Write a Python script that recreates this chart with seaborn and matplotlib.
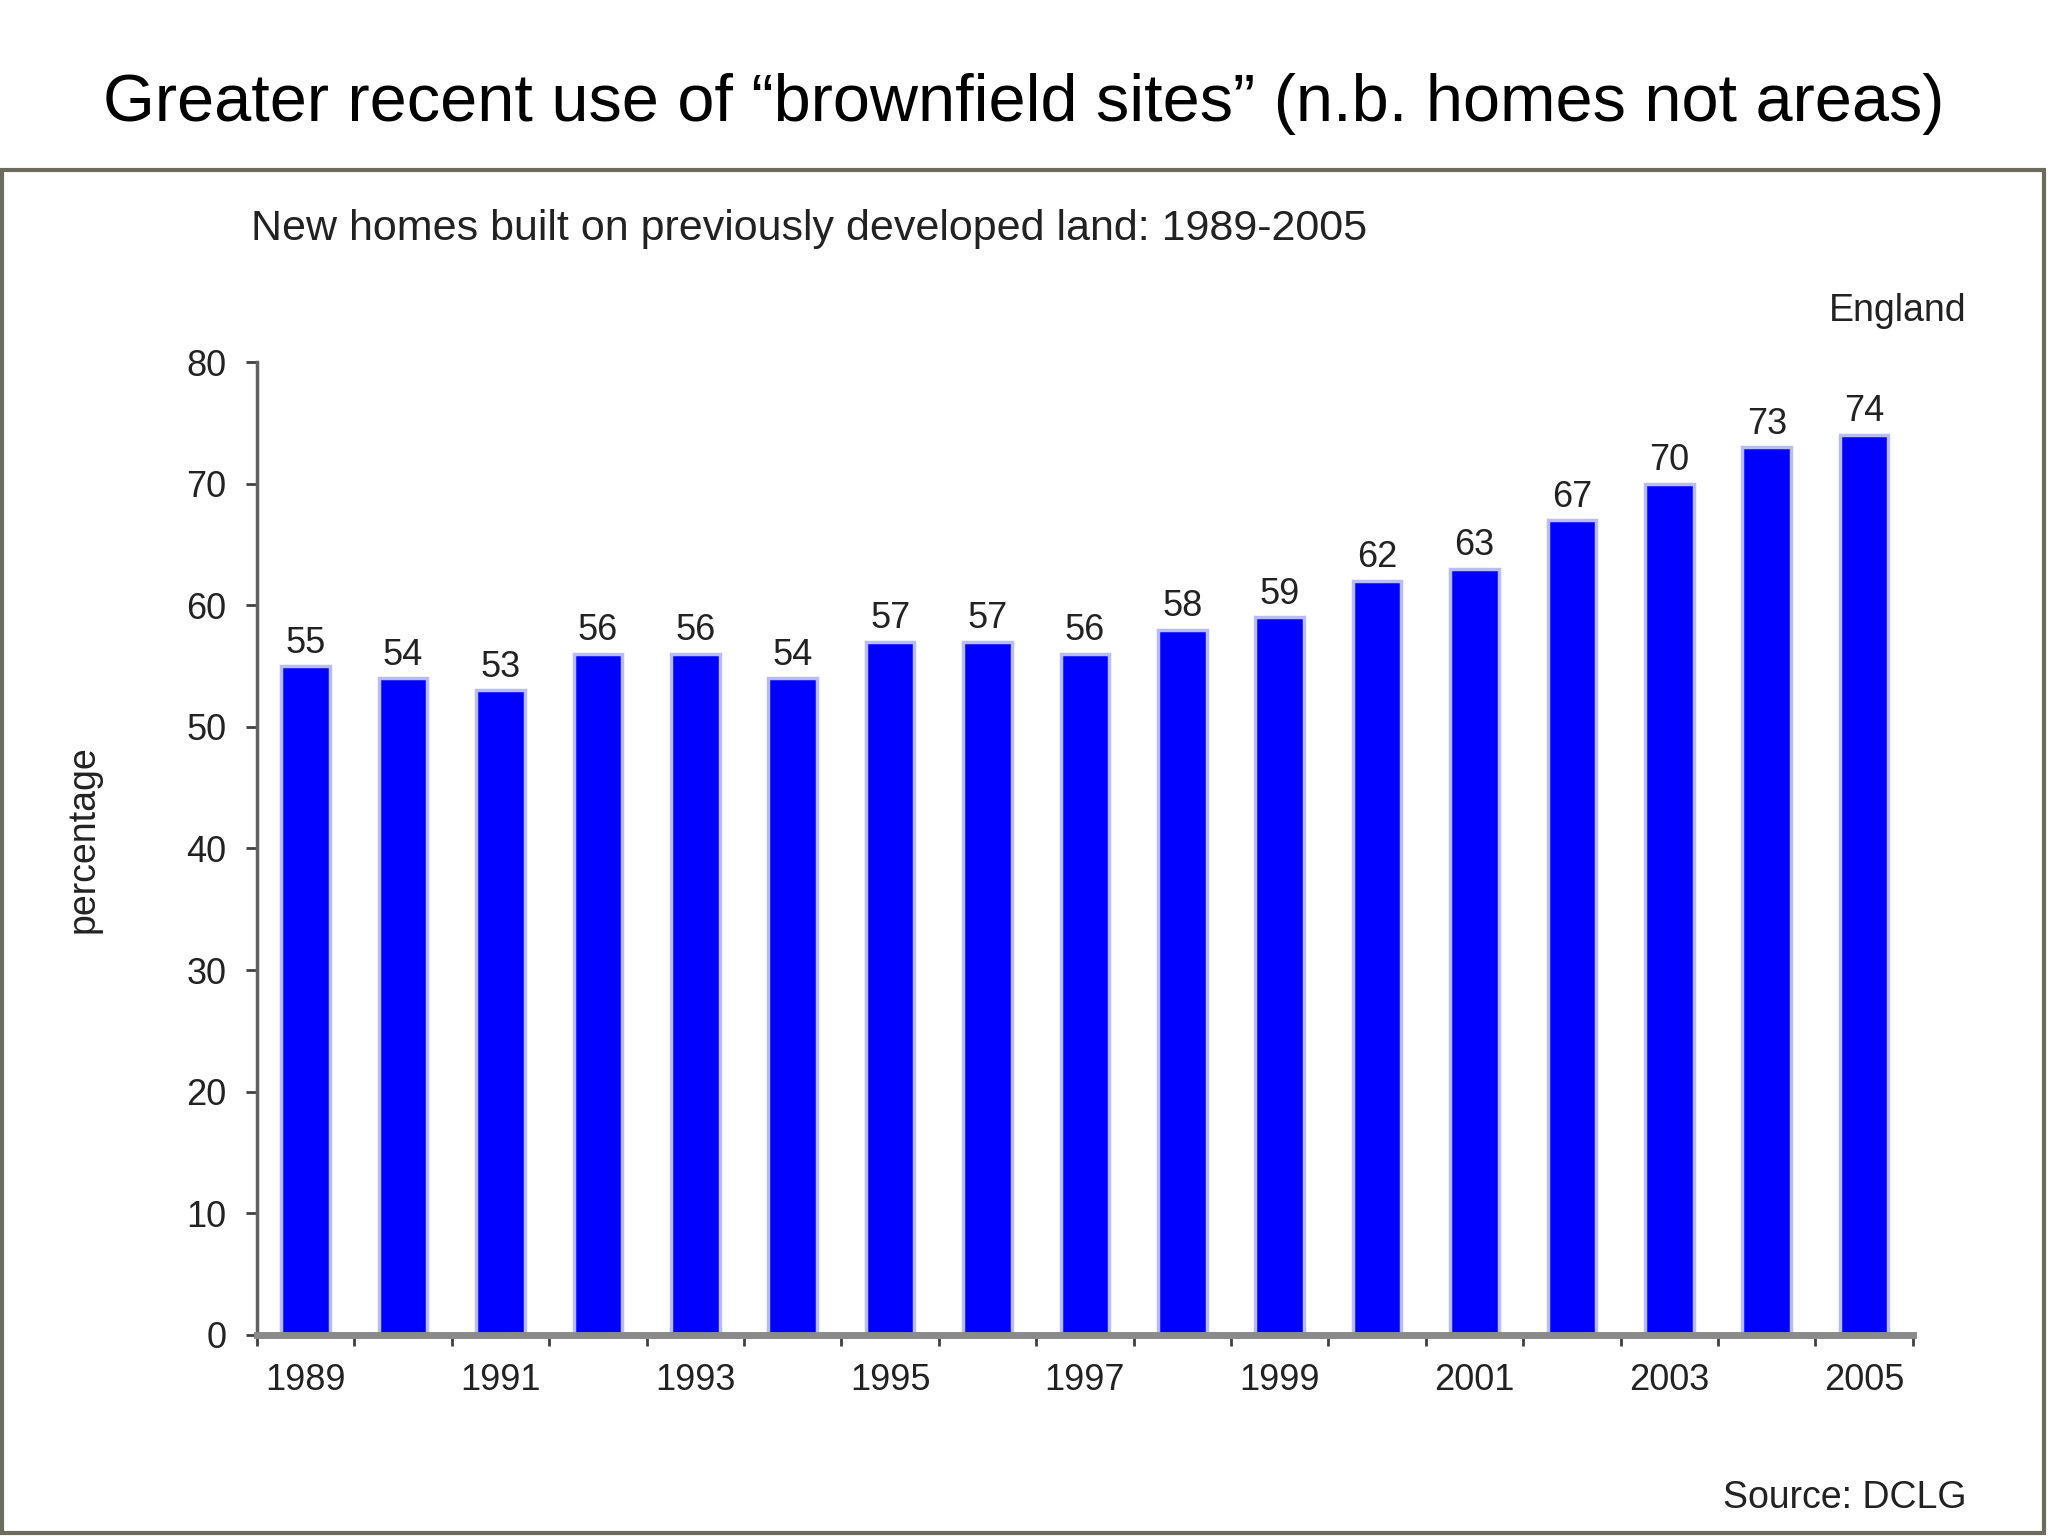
import matplotlib
matplotlib.use("Agg")
import matplotlib.pyplot as plt
import pandas as pd
import seaborn as sns
from matplotlib.patches import Rectangle
from matplotlib.ticker import FixedLocator

# data
years = list(range(1989, 2006))
share = [55, 54, 53, 56, 56, 54, 57, 57, 56, 58, 59, 62, 63, 67, 70, 73, 74]
y_ticks = [0, 10, 20, 30, 40, 50, 60, 70, 80]

df = pd.DataFrame({"year": [str(y) for y in years], "share": share})

sns.set_theme(style="white")
plt.rcParams["font.family"] = ["Liberation Sans", "DejaVu Sans"]

text_col = "#222222"

fig = plt.figure(figsize=(20.48, 15.36), dpi=100)
ax = fig.add_axes([0.1255, 0.1309, 0.8085, 0.6334])

sns.barplot(data=df, x="year", y="share", color="#0000ff", saturation=1,
            width=0.5, edgecolor="#b8bcff", linewidth=2.5, ax=ax)

ax.bar_label(ax.containers[0], labels=[str(v) for v in share], padding=4,
             fontsize=26, color=text_col)

ax.set_xlim(-0.5, len(years) - 0.5)
ax.set_ylim(0, 80)
ax.set_yticks(y_ticks)
ax.set_yticklabels([str(t) for t in y_ticks], fontsize=26, color=text_col)

# labels every other year at bar centres, ticks at the category boundaries
ax.set_xticks(range(0, len(years), 2))
ax.set_xticklabels([str(y) for y in years[::2]], fontsize=26, color=text_col)
ax.xaxis.set_minor_locator(FixedLocator([i - 0.5 for i in range(len(years) + 1)]))
ax.tick_params(axis="x", which="major", length=0, pad=20)
ax.tick_params(axis="x", which="minor", length=8, width=2, color="#404040",
               direction="out", bottom=True)
ax.tick_params(axis="y", length=8, width=2, color="#404040", direction="out",
               pad=14, left=True)

ax.set_xlabel("")
ax.set_ylabel("percentage", fontsize=27, color=text_col, labelpad=0)
ax.yaxis.set_label_coords(-0.094, 0.51)

sns.despine(ax=ax, top=True, right=True)
ax.spines["left"].set_color("#606060")
ax.spines["left"].set_linewidth(2.5)
ax.spines["bottom"].set_color("#8a8a8a")
ax.spines["bottom"].set_linewidth(5)

# frame round the chart picture
fig.patches.append(Rectangle((0.001, 0.002), 0.997, 0.887, transform=fig.transFigure,
                             fill=False, edgecolor="#6b6b5e", linewidth=3))

fig.text(0.5, 0.932, "Greater recent use of \u201cbrownfield sites\u201d (n.b. homes not areas)",
         ha="center", va="center", fontsize=48, color="black")
fig.text(0.1226, 0.851, "New homes built on previously developed land: 1989-2005",
         ha="left", va="center", fontsize=31, color=text_col)
fig.text(0.960, 0.7975, "England", ha="right", va="center", fontsize=27, color=text_col)
fig.text(0.960, 0.0247, "Source: DCLG", ha="right", va="center", fontsize=27, color=text_col)

fig.savefig("out.png", dpi=100, facecolor="white")
